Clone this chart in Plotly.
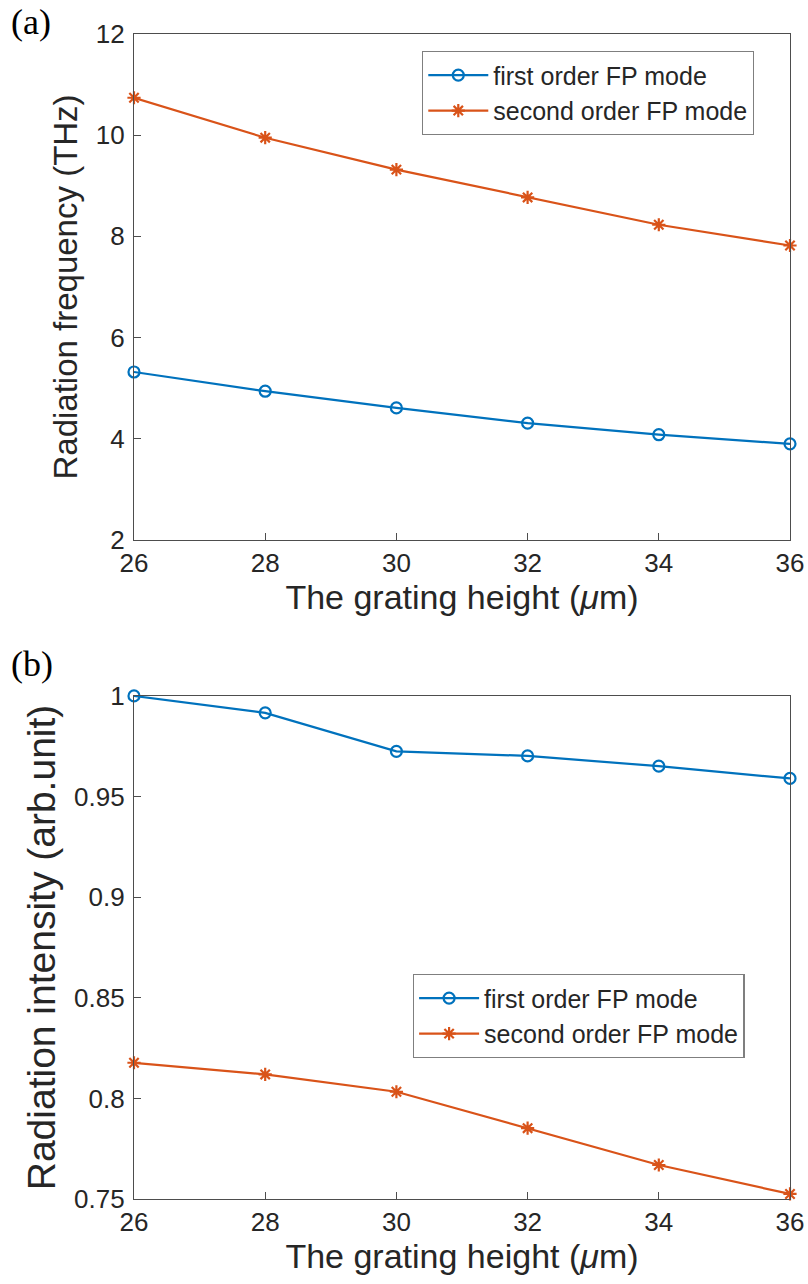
import plotly.graph_objects as go
from plotly.subplots import make_subplots

height_um = [26, 28, 30, 32, 34, 36]
freq_first = [5.32, 4.94, 4.61, 4.31, 4.08, 3.90]
freq_second = [10.74, 9.95, 9.32, 8.77, 8.23, 7.82]
int_first = [1.0, 0.9916, 0.9725, 0.9702, 0.9651, 0.9590]
int_second = [0.8177, 0.8119, 0.8033, 0.7852, 0.7669, 0.7525]

x_ticks = [26, 28, 30, 32, 34, 36]
y1_ticks = [2, 4, 6, 8, 10, 12]
y2_ticks = [0.75, 0.8, 0.85, 0.9, 0.95, 1.0]
y2_labels = ["0.75", "0.8", "0.85", "0.9", "0.95", "1"]

names = ["first order FP mode", "second order FP mode"]
BLUE = "#0072BD"
ORANGE = "#D95319"
FONT = "Liberation Sans, Arial, sans-serif"
AX = "#4d4d4d"
TXT = "#262626"

fig = make_subplots(rows=2, cols=1)

def add(row, y, name, color, symbol, legend):
    fig.add_trace(go.Scatter(
        x=height_um, y=y, name=name, mode="lines+markers",
        line=dict(color=color, width=2.2),
        marker=dict(symbol=symbol, size=11, color=color,
                    line=dict(color=color, width=2.2)),
        legend=legend, showlegend=True, cliponaxis=False), row=row, col=1)

add(1, freq_first, names[0], BLUE, "circle-open", "legend")
add(1, freq_second, names[1], ORANGE, "asterisk-open", "legend")
add(2, int_first, names[0], BLUE, "circle-open", "legend2")
add(2, int_second, names[1], ORANGE, "asterisk-open", "legend2")

axis_common = dict(showline=True, mirror=True, linecolor=AX, linewidth=1.3, automargin=False,
                   ticks="inside", ticklen=7, tickcolor=AX, showgrid=False, zeroline=False,
                   tickfont=dict(family=FONT, size=26, color=TXT))

fig.update_xaxes(**axis_common, range=[26, 36], tickvals=x_ticks,
                 title=dict(text="The grating height (<i>μ</i>m)", font=dict(family=FONT, size=34, color=TXT), standoff=2))
fig.update_yaxes(**axis_common, ticklabelstandoff=3)
fig.update_yaxes(row=1, col=1, range=[2, 12], tickvals=y1_ticks,
                 title=dict(text="Radiation frequency (THz)", font=dict(family=FONT, size=33, color=TXT), standoff=8))
fig.update_yaxes(row=2, col=1, range=[0.75, 1.0], tickvals=y2_ticks, ticktext=y2_labels,
                 title=dict(text="Radiation intensity (arb.unit)", font=dict(family=FONT, size=39, color=TXT), standoff=6))

fig.update_layout(
    width=808, height=1284,
    margin=dict(l=134, r=18, t=34, b=85),
    paper_bgcolor="white", plot_bgcolor="white",
    xaxis=dict(domain=[0, 1]), yaxis=dict(domain=[0.5657, 1.0]),
    xaxis2=dict(domain=[0, 1]), yaxis2=dict(domain=[0.0, 0.4318]),
    legend=dict(x=0.439, y=0.9854, xanchor="left", yanchor="top",
                bordercolor="#7f7f7f", borderwidth=1.3, bgcolor="white",
                font=dict(family=FONT, size=25, color=TXT), tracegroupgap=0, itemwidth=60),
    legend2=dict(x=0.425, y=0.1931, xanchor="left", yanchor="top",
                 bordercolor="#7f7f7f", borderwidth=1.3, bgcolor="white",
                 font=dict(family=FONT, size=25, color=TXT), tracegroupgap=0, itemwidth=60),
    annotations=[
        dict(text="(a)", xref="paper", yref="paper", x=-0.19, y=1.0292, xanchor="left", yanchor="top",
             showarrow=False, font=dict(family="Liberation Serif, Times New Roman, serif", size=36, color="black")),
        dict(text="(b)", xref="paper", yref="paper", x=-0.19, y=0.478, xanchor="left", yanchor="top",
             showarrow=False, font=dict(family="Liberation Serif, Times New Roman, serif", size=36, color="black")),
    ],
)

fig.write_html("out.html", config={"displayModeBar": False},
               post_script="document.body.style.margin='0px';")
